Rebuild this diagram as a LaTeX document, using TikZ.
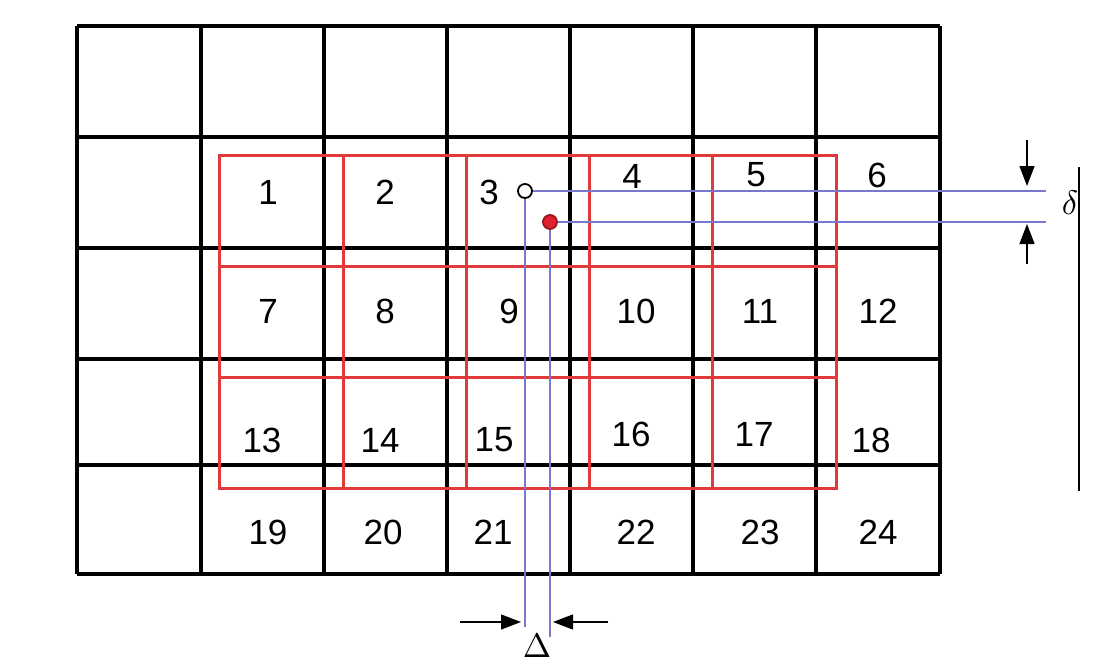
\documentclass[tikz,border=0pt]{standalone}
\usepackage{fontspec}
\setmainfont{Liberation Sans}
\usetikzlibrary{arrows.meta}
\definecolor{gridred}{HTML}{E03A3A}
\definecolor{lav}{HTML}{7A78CC}
\definecolor{dotred}{HTML}{E0202E}
\tikzset{
  gridline/.style={line width=3.2pt, black},
  redbox/.style={draw=gridred, line width=3pt},
  num/.style={font=\fontsize{35}{40}\selectfont, inner sep=0pt},
  blueline/.style={draw=lav, line width=2pt},
  dimarrow/.style={line width=1.2pt, -{Triangle[length=20pt,width=15pt]}},
  marker/.style={circle, inner sep=0pt, minimum size=14pt, line width=1.8pt},
  greek/.style={inner sep=0pt, scale=3.4}
}
\begin{document}
\begin{tikzpicture}[x=1pt,y=-1pt]
\useasboundingbox (0,0) rectangle (1107,669);
\fill[white] (0,0) rectangle (1107,669);
% black grid
\foreach \x in {77,201,324,447,570,693,816,940}
  \draw[gridline] (\x,26) -- (\x,574);
\foreach \y in {26,137,248,359,465,574}
  \draw[gridline] (77,\y) -- (940,\y);
% red boxes
\def\xs{{219,343,466,589,712,836}}
\def\ys{{155,266,377,488}}
\foreach \i in {0,...,4}{
  \foreach \j in {0,...,2}{
    \pgfmathsetmacro{\xa}{\xs[\i]}
    \pgfmathsetmacro{\xb}{\xs[\i+1]}
    \pgfmathsetmacro{\ya}{\ys[\j]}
    \pgfmathsetmacro{\yb}{\ys[\j+1]}
    \draw[redbox] (\xa,\ya) rectangle (\xb,\yb);
  }
}
% numbers
\node[num] (n1) at (268,192) {1};
\node[num] (n2) at (385,192) {2};
\node[num] (n3) at (489,192) {3};
\node[num] (n4) at (632,176) {4};
\node[num] (n5) at (756,175) {5};
\node[num] (n6) at (877,175) {6};
\node[num] (n7) at (268,311) {7};
\node[num] (n8) at (385,311) {8};
\node[num] (n9) at (509,311) {9};
\node[num] (n10) at (636,311) {10};
\node[num] (n11) at (760,311) {11};
\node[num] (n12) at (878,311) {12};
\node[num] (n13) at (262,440) {13};
\node[num] (n14) at (380,440) {14};
\node[num] (n15) at (494,440) {15};
\node[num] (n16) at (631,434) {16};
\node[num] (n17) at (754,434) {17};
\node[num] (n18) at (871,440) {18};
\node[num] (n19) at (268,532) {19};
\node[num] (n20) at (383,532) {20};
\node[num] (n21) at (493,532) {21};
\node[num] (n22) at (636,532) {22};
\node[num] (n23) at (760,532) {23};
\node[num] (n24) at (878,532) {24};
% markers
\node[marker, draw=black, fill=white] (p) at (525,191) {};
\node[marker, draw=dotred!70!black, fill=dotred] (q) at (550,222) {};
\coordinate (pe) at (1046,191);
\coordinate (ps) at (525,627);
\coordinate (qe) at (1046,222);
\coordinate (qs) at (550,637);
\draw[blueline] (p.east) -- (pe);
\draw[blueline] (p.south) -- (ps);
\draw[blueline] (q.east) -- (qe);
\draw[blueline] (q.south) -- (qs);
% delta dimension (vertical)
\coordinate (dt0) at (1027,140);
\coordinate (dt1) at (1027,186);
\coordinate (db0) at (1027,264);
\coordinate (db1) at (1027,224);
\draw[dimarrow] (dt0) -- (dt1);
\draw[dimarrow] (db0) -- (db1);
\node[greek] (dl) at (1070,203) {$\delta$};
% Delta dimension (horizontal)
\coordinate (hl0) at (460,622);
\coordinate (hl1) at (521,622);
\coordinate (hr0) at (608,622);
\coordinate (hr1) at (553,622);
\draw[dimarrow] (hl0) -- (hl1);
\draw[dimarrow] (hr0) -- (hr1);
\node[greek] (Dl) at (537,646) {$\Delta$};
% vertical bar at right
\coordinate (v0) at (1079,167);
\coordinate (v1) at (1079,491);
\draw[line width=2.4pt] (v0) -- (v1);
\end{tikzpicture}
\end{document}
